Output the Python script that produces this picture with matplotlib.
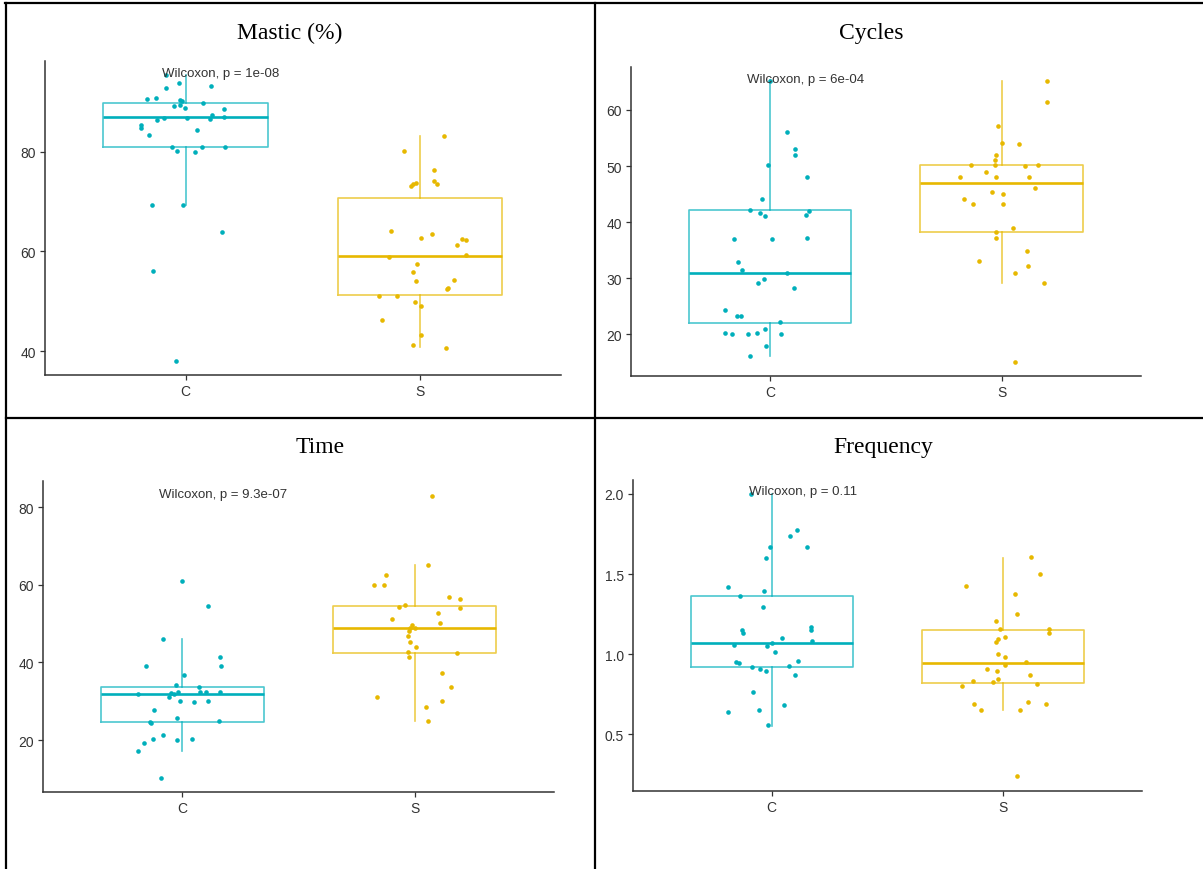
import matplotlib
matplotlib.use("Agg")
import matplotlib.pyplot as plt
from matplotlib.lines import Line2D
import numpy as np

# ---------------- data ----------------
groups = ["C", "S"]
titles = ["Mastic (%)", "Cycles", "Time", "Frequency"]
pvalue_labels = ["Wilcoxon, p = 1e-08", "Wilcoxon, p = 6e-04",
                 "Wilcoxon, p = 9.3e-07", "Wilcoxon, p = 0.11"]
pvalue_label_y = [95.1, 65.0, 82.7, 2.0]

# Mastic (%)
mastic_C = [95.4, 93.7, 93.2, 92.8, 90.6, 90.8, 90.4, 90.1, 89.8, 89.2, 89.3, 88.8, 88.5,
            86.8, 86.8, 87.4, 86.5, 87.0, 86.4, 85.4, 84.8, 84.4, 83.3, 80.9, 80.9, 80.9,
            80.1, 79.9, 69.3, 69.2, 63.9, 56.1, 38.1]
mastic_C_jitter = [-0.083, -0.026, 0.110, -0.083, -0.164, -0.126, -0.024, -0.015, 0.076, -0.049,
                   -0.022, -0.001, 0.164, -0.090, 0.008, 0.111, 0.103, 0.164, -0.122, -0.191,
                   -0.190, 0.050, -0.157, -0.058, 0.070, 0.167, -0.035, 0.040, -0.142, -0.009,
                   0.155, -0.137, -0.039]
mastic_S = [83.1, 80.1, 76.4, 73.0, 73.4, 73.7, 74.0, 73.5, 64.1, 63.5, 62.6, 62.5, 62.3, 61.2,
            59.3, 58.9, 57.4, 55.8, 54.0, 54.2, 52.7, 52.4, 51.1, 51.1, 49.9, 49.0, 46.2, 43.3,
            41.3, 40.7]
mastic_S_jitter = [0.100, -0.067, 0.059, -0.040, -0.030, -0.020, 0.059, 0.072, -0.124, 0.051,
                   0.005, 0.180, 0.194, 0.157, 0.195, -0.133, -0.013, -0.029, -0.020, 0.146,
                   0.117, 0.113, -0.177, -0.097, -0.022, 0.005, -0.163, 0.005, -0.029, 0.109]
# box stats per group: [whislo, q1, med, q3, whishi]
mastic_box_C = [69.2, 81.0, 87.0, 89.7, 95.4]
mastic_box_S = [40.9, 51.3, 59.1, 70.6, 83.1]

# Cycles
cycles_C = [65.2, 56.0, 53.0, 52.0, 50.1, 48.0, 44.2, 42.2, 42.0, 41.6, 41.1, 41.2, 37.0, 37.0,
            37.2, 32.9, 31.4, 31.0, 29.9, 29.1, 28.2, 24.3, 23.2, 23.2, 22.2, 20.9, 20.2, 20.0,
            20.0, 20.2, 20.0, 18.0, 16.1]
cycles_C_jitter = [0.0, 0.076, 0.110, 0.110, -0.008, 0.162, -0.035, -0.084, 0.169, -0.040,
                   -0.022, 0.155, -0.156, 0.008, 0.162, -0.138, -0.120, 0.073, -0.027, -0.050,
                   0.103, -0.191, -0.141, -0.123, 0.043, -0.022, -0.191, -0.164, -0.092, -0.057,
                   0.050, -0.015, -0.084]
cycles_S = [65.1, 61.4, 57.1, 54.1, 53.9, 52.0, 51.1, 50.1, 50.1, 50.0, 50.1, 48.1, 48.9, 48.1,
            48.1, 46.1, 45.3, 45.0, 44.1, 43.2, 43.2, 39.0, 38.2, 37.1, 34.9, 33.1, 32.2, 31.0,
            29.1, 15.1]
cycles_S_jitter = [0.196, 0.196, -0.014, 0.004, 0.074, -0.022, -0.030, -0.133, -0.030, 0.100,
                   0.157, -0.179, -0.068, -0.022, 0.120, 0.146, -0.042, 0.006, -0.163, -0.124,
                   0.006, 0.050, -0.022, -0.026, 0.108, -0.098, 0.115, 0.058, 0.182, 0.058]
cycles_box_C = [16.2, 22.1, 31.0, 42.1, 65.3]
cycles_box_S = [29.2, 38.3, 47.0, 50.1, 65.1]

# Time
time_C = [61.1, 54.5, 46.1, 41.4, 39.1, 39.1, 36.8, 34.1, 33.7, 31.8, 32.2, 31.8, 32.5, 31.1,
          32.5, 32.4, 32.3, 30.1, 29.9, 30.1, 27.8, 25.8, 24.6, 24.5, 24.9, 21.3, 20.3, 20.1,
          20.3, 19.2, 17.2, 10.3]
time_C_jitter = [0.0, 0.110, -0.084, 0.163, 0.166, -0.156, 0.008, -0.028, 0.073, -0.192,
                 -0.048, -0.038, -0.018, -0.058, 0.077, 0.103, 0.163, -0.009, 0.048, 0.110,
                 -0.122, -0.024, -0.140, -0.137, 0.156, -0.084, -0.126, -0.024, 0.042, -0.165,
                 -0.192, -0.091]
time_S = [83.0, 65.0, 62.5, 60.0, 60.0, 56.8, 56.3, 54.0, 54.3, 54.8, 52.7, 51.2, 50.2, 49.6,
          48.9, 49.0, 48.2, 46.8, 45.2, 43.9, 42.6, 41.4, 42.5, 37.3, 33.7, 31.2, 30.2, 28.6,
          25.0]
time_S_jitter = [0.073, 0.059, -0.124, -0.177, -0.132, 0.147, 0.196, 0.196, -0.066, -0.040,
                 0.101, -0.098, 0.108, -0.013, -0.019, 0.003, -0.023, -0.029, -0.022, 0.006,
                 -0.029, -0.024, 0.181, 0.117, 0.158, -0.163, 0.119, 0.050, 0.059]
time_box_C = [17.2, 24.7, 31.9, 33.6, 46.0]
time_box_S = [25.0, 42.4, 49.0, 54.5, 65.2]

# Frequency
freq_C = [2.0, 1.772, 1.739, 1.666, 1.666, 1.599, 1.418, 1.395, 1.362, 1.295, 1.152, 1.129,
          1.169, 1.152, 1.102, 1.081, 1.058, 1.069, 1.054, 1.014, 0.954, 0.944, 0.958, 0.919,
          0.908, 0.892, 0.929, 0.871, 0.765, 0.680, 0.649, 0.636, 0.559]
freq_C_jitter = [-0.088, 0.109, 0.078, -0.007, 0.153, -0.023, -0.190, -0.033, -0.138, -0.038,
                 -0.127, -0.123, 0.168, 0.168, 0.045, 0.172, -0.164, 0.001, -0.020, 0.012,
                 -0.156, -0.140, 0.113, -0.084, -0.049, -0.025, 0.074, 0.101, -0.083, 0.052,
                 -0.056, -0.190, -0.014]
freq_S = [1.605, 1.501, 1.423, 1.373, 1.252, 1.208, 1.158, 1.158, 1.135, 1.108, 1.096, 1.073,
          1.002, 0.985, 0.952, 0.931, 0.908, 0.896, 0.871, 0.846, 0.834, 0.825, 0.815, 0.804,
          0.692, 0.702, 0.688, 0.652, 0.652, 0.237]
freq_S_jitter = [0.122, 0.161, -0.162, 0.052, 0.061, -0.029, -0.014, 0.200, 0.200, 0.007,
                 -0.022, -0.029, -0.020, 0.007, 0.098, 0.007, -0.067, -0.025, 0.117, -0.020,
                 -0.129, -0.041, 0.148, -0.178, -0.124, 0.110, 0.184, -0.097, 0.075, 0.059]
freq_box_C = [0.554, 0.92, 1.07, 1.36, 2.0]
freq_box_S = [0.652, 0.817, 0.942, 1.152, 1.602]

y_ticks = [[40, 60, 80], [20, 30, 40, 50, 60], [20, 40, 60, 80], [0.5, 1.0, 1.5, 2.0]]
y_ticklabels = [["40", "60", "80"], ["20", "30", "40", "50", "60"],
                ["20", "40", "60", "80"], ["0.5", "1.0", "1.5", "2.0"]]

# ---------------- style / layout ----------------
colors = {"C": "#00AFBB", "S": "#E7B800"}
W, H = 1203, 870
fig = plt.figure(figsize=(W / 100, H / 100), dpi=100)
fig.patch.set_facecolor("white")

def rect(l, r, t, b):
    return [l / W, 1 - b / H, (r - l) / W, (b - t) / H]

layout = [
    dict(rect=rect(44.8, 561.0, 62.3, 376.0), ylim=(35.2, 98.1), title_xy=(289.3, 39.0)),
    dict(rect=rect(630.7, 1140.6, 67.7, 377.0), ylim=(12.6, 67.7), title_xy=(871.5, 38.5)),
    dict(rect=rect(42.9, 554.2, 482.3, 792.7), ylim=(6.7, 86.7), title_xy=(320.0, 453.3)),
    dict(rect=rect(633.0, 1141.7, 481.0, 792.3), ylim=(0.144, 2.087), title_xy=(883.7, 453.3)),
]

panel_data = [
    ((mastic_C, mastic_C_jitter, mastic_box_C), (mastic_S, mastic_S_jitter, mastic_box_S)),
    ((cycles_C, cycles_C_jitter, cycles_box_C), (cycles_S, cycles_S_jitter, cycles_box_S)),
    ((time_C, time_C_jitter, time_box_C), (time_S, time_S_jitter, time_box_S)),
    ((freq_C, freq_C_jitter, freq_box_C), (freq_S, freq_S_jitter, freq_box_S)),
]

axis_col = "#333333"
for p, (lay, pdata) in enumerate(zip(layout, panel_data)):
    ax = fig.add_axes(lay["rect"])
    for i, (g, (vals, jit, box)) in enumerate(zip(groups, pdata)):
        col = colors[g]
        st = dict(whislo=box[0], q1=box[1], med=box[2], q3=box[3], whishi=box[4], label=g)
        ax.bxp([st], positions=[i + 1], widths=0.7, showfliers=False, showcaps=False,
               boxprops=dict(color=col, lw=1.2, alpha=0.7),
               whiskerprops=dict(color=col, lw=1.2, alpha=0.7),
               medianprops=dict(color=col, lw=1.9))
        x = (i + 1) + np.asarray(jit)
        ax.scatter(x, vals, s=11, color=col, linewidths=0, zorder=3)
    ax.set_xlim(0.4, 2.6)
    ax.set_ylim(*lay["ylim"])
    ax.set_xticks([1, 2])
    ax.set_xticklabels(groups)
    ax.set_yticks(y_ticks[p])
    ax.set_yticklabels(y_ticklabels[p])
    for s in ["top", "right"]:
        ax.spines[s].set_visible(False)
    for s in ["left", "bottom"]:
        ax.spines[s].set_color(axis_col)
        ax.spines[s].set_linewidth(1.1)
    ax.tick_params(axis="both", colors=axis_col, length=3.5, width=0.9,
                   labelsize=10, labelcolor="#333333", pad=3)
    for lab in ax.get_xticklabels() + ax.get_yticklabels():
        lab.set_fontfamily("Liberation Sans")
    ax.set_facecolor("white")
    ax.text(0.9, pvalue_label_y[p], pvalue_labels[p], ha="left", va="baseline",
            fontsize=9.5, color="#333333", family="Liberation Sans")
    tx, ty = lay["title_xy"]
    fig.text(tx / W, 1 - ty / H, titles[p], ha="center", va="baseline",
             fontsize=17, family="Liberation Serif", color="black")

# panel frame lines
def fline(x0, y0, x1, y1):
    fig.add_artist(Line2D([x0 / W, x1 / W], [1 - y0 / H, 1 - y1 / H],
                          transform=fig.transFigure, color="black", lw=1.6))

fline(5, 4, 1203, 4)
fline(6, 4, 6, 870)
fline(595, 4, 595, 870)
fline(6, 419, 1203, 419)

fig.savefig("out.png", dpi=100)
